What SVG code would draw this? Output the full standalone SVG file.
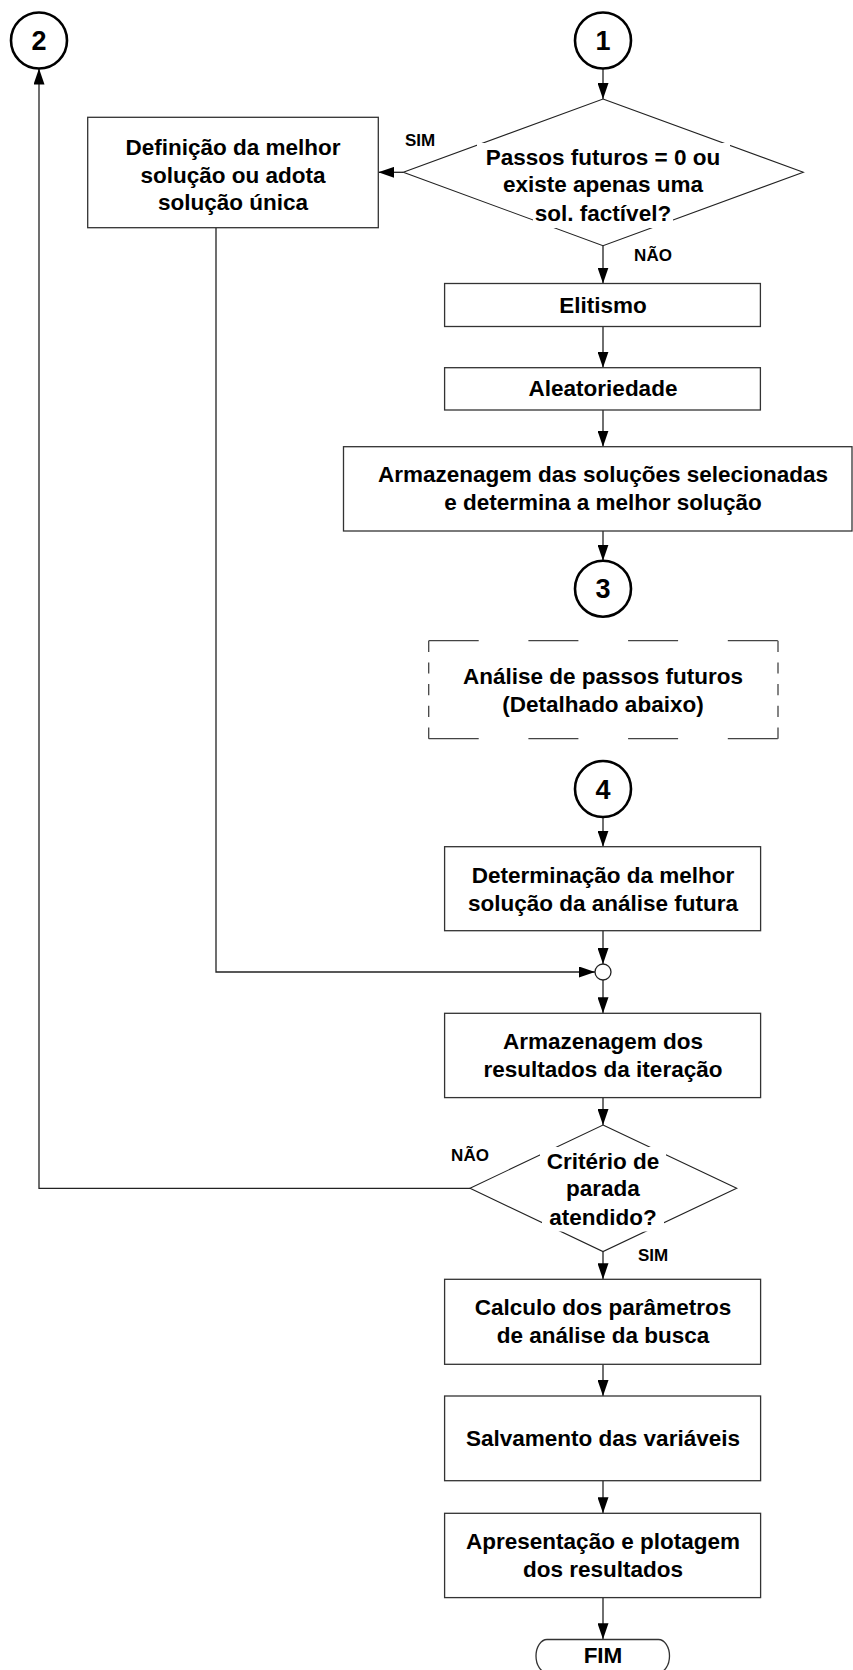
<svg xmlns="http://www.w3.org/2000/svg" width="853" height="1670" viewBox="0 0 853 1670">
<style>
text{font-family:"Liberation Sans",Arial,sans-serif;font-weight:bold;fill:#000;text-anchor:middle}
.t{font-size:22.5px}
.lbl{font-size:17px}
.num{font-size:27px}
.box{fill:#fff;stroke:#333;stroke-width:1.3}
.dia{fill:#fff;stroke:#222;stroke-width:1.1}
.circ{fill:#fff;stroke:#000;stroke-width:2.6}
.bg{fill:#fff;stroke:none}
.dash{fill:none;stroke:#444;stroke-width:1.3}
.conn{fill:none;stroke:#222;stroke-width:1.3}
.arr{marker-end:url(#ah)}
</style>
<defs>
<marker id="ah" markerUnits="userSpaceOnUse" markerWidth="16" markerHeight="11" refX="16" refY="5.5" orient="auto">
<path d="M0,0 L16,5.5 L0,11 Z" fill="#000"/>
</marker>
</defs>
<rect width="853" height="1670" fill="#fff"/>

<g id="connectors">
<line class="conn arr" x1="603" y1="68.5" x2="603" y2="99"/>
<line class="conn arr" x1="403.3" y1="172.3" x2="378.3" y2="172.3"/>
<line class="conn arr" x1="603" y1="245.7" x2="603" y2="283.5"/>
<line class="conn arr" x1="603" y1="326.5" x2="603" y2="367.7"/>
<line class="conn arr" x1="603" y1="410" x2="603" y2="446.7"/>
<line class="conn arr" x1="603" y1="531" x2="603" y2="560.7"/>
<line class="conn arr" x1="603" y1="817" x2="603" y2="846.7"/>
<line class="conn arr" x1="603" y1="930.7" x2="603" y2="964"/>
<polyline class="conn arr" points="216,227.7 216,972 595,972"/>
<line class="conn arr" x1="603" y1="980" x2="603" y2="1013.3"/>
<line class="conn arr" x1="603" y1="1097.6" x2="603" y2="1125"/>
<polyline class="conn arr" points="470,1188.3 39,1188.3 39,68.5"/>
<line class="conn arr" x1="603" y1="1251.6" x2="603" y2="1279.3"/>
<line class="conn arr" x1="603" y1="1364.3" x2="603" y2="1396"/>
<line class="conn arr" x1="603" y1="1480.7" x2="603" y2="1513.3"/>
<line class="conn arr" x1="603" y1="1597.6" x2="603" y2="1639.3"/>
<text class="lbl" x="420" y="145.5">SIM</text>
<text class="lbl" x="653" y="261">NÃO</text>
<text class="lbl" x="470" y="1161">NÃO</text>
<text class="lbl" x="653" y="1261">SIM</text>
</g>

<g id="node-c1">
<circle class="circ" cx="603" cy="40.5" r="28"/>
<text class="num" x="603" y="50.2">1</text>
</g>

<g id="node-c2">
<circle class="circ" cx="39" cy="40.5" r="28"/>
<text class="num" x="39" y="50.2">2</text>
</g>

<g id="node-d1">
<polygon class="dia" points="603,99 803.3,172.3 603,245.7 403.3,172.3"/>
<rect class="bg" x="477" y="143" width="253" height="27"/>
<rect class="bg" x="533" y="199" width="140" height="29"/>
<text class="t" x="603" y="164.6">Passos futuros = 0 ou</text>
<text class="t" x="603" y="192.3">existe apenas uma</text>
<text class="t" x="603" y="221">sol. factível?</text>
</g>

<g id="node-def">
<rect class="box" x="87.7" y="117.3" width="290.6" height="110.4"/>
<text class="t" x="233" y="154.8">Definição da melhor</text>
<text class="t" x="233" y="182.8">solução ou adota</text>
<text class="t" x="233" y="209.8">solução única</text>
</g>

<g id="node-elit">
<rect class="box" x="444.6" y="283.5" width="315.8" height="43"/>
<text class="t" x="603" y="313">Elitismo</text>
</g>

<g id="node-alea">
<rect class="box" x="444.6" y="367.7" width="315.8" height="42.3"/>
<text class="t" x="603" y="396.3">Aleatoriedade</text>
</g>

<g id="node-arm1">
<rect class="box" x="343.5" y="446.7" width="508.5" height="84.3"/>
<text class="t" x="603" y="482">Armazenagem das soluções selecionadas</text>
<text class="t" x="603" y="510.3">e determina a melhor solução</text>
</g>

<g id="node-c3">
<circle class="circ" cx="603" cy="588.7" r="28"/>
<text class="num" x="603" y="598.4">3</text>
</g>

<g id="node-analise">
<line class="dash" x1="428.7" y1="640.7" x2="778" y2="640.7" stroke-dasharray="50 49.7"/>
<line class="dash" x1="428.7" y1="738.7" x2="778" y2="738.7" stroke-dasharray="50 49.7"/>
<line class="dash" x1="428.7" y1="640.7" x2="428.7" y2="738.7" stroke-dasharray="11.2 10.5"/>
<line class="dash" x1="778" y1="640.7" x2="778" y2="738.7" stroke-dasharray="11.2 10.5"/>
<text class="t" x="603" y="684">Análise de passos futuros</text>
<text class="t" x="603" y="712.3">(Detalhado abaixo)</text>
</g>

<g id="node-c4">
<circle class="circ" cx="603" cy="789" r="28"/>
<text class="num" x="603" y="798.7">4</text>
</g>

<g id="node-det">
<rect class="box" x="444.6" y="846.7" width="316" height="84"/>
<text class="t" x="603" y="883">Determinação da melhor</text>
<text class="t" x="603" y="911.3">solução da análise futura</text>
</g>

<g id="node-junction">
<circle cx="603" cy="972" r="8" fill="#fff" stroke="#222" stroke-width="1.3"/>
</g>

<g id="node-arm2">
<rect class="box" x="444.6" y="1013.3" width="316" height="84.3"/>
<text class="t" x="603" y="1048.7">Armazenagem dos</text>
<text class="t" x="603" y="1077.3">resultados da iteração</text>
</g>

<g id="node-d2">
<polygon class="dia" points="603,1125 736.7,1188.3 603,1251.6 470,1188.3"/>
<rect class="bg" x="540" y="1147" width="126" height="27"/>
<rect class="bg" x="542" y="1203" width="122" height="28.5"/>
<text class="t" x="603" y="1168.7">Critério de</text>
<text class="t" x="603" y="1196.3">parada</text>
<text class="t" x="603" y="1224.7">atendido?</text>
</g>

<g id="node-calc">
<rect class="box" x="444.6" y="1279.3" width="316" height="85"/>
<text class="t" x="603" y="1315.3">Calculo dos parâmetros</text>
<text class="t" x="603" y="1343">de análise da busca</text>
</g>

<g id="node-salv">
<rect class="box" x="444.6" y="1396" width="316" height="84.7"/>
<text class="t" x="603" y="1446.3">Salvamento das variáveis</text>
</g>

<g id="node-apres">
<rect class="box" x="444.6" y="1513.3" width="316" height="84.3"/>
<text class="t" x="603" y="1549">Apresentação e plotagem</text>
<text class="t" x="603" y="1577.3">dos resultados</text>
</g>

<g id="node-fim">
<path class="box" d="M547,1639.5 H658.5 A11 16.5 0 0 1 658.5,1672.5 H547 A11 16.5 0 0 1 547,1639.5 Z"/>
<text class="t" x="603" y="1663">FIM</text>
</g>
</svg>
